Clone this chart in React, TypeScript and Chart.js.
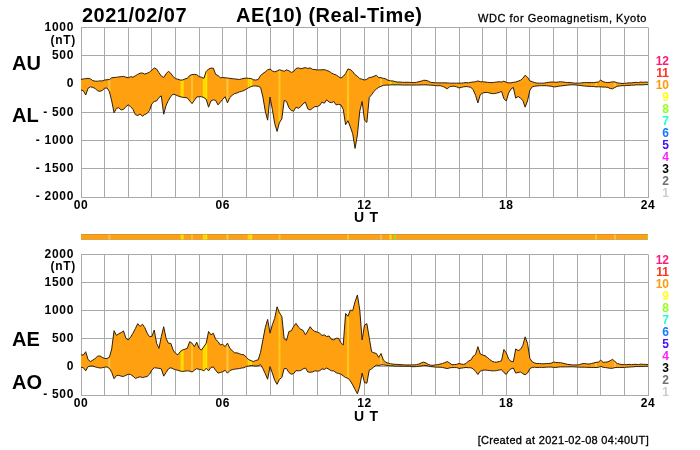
import React, { useEffect, useRef } from "react";
import { Chart, registerables } from "chart.js";

Chart.register(...registerables);

const stepHours = 0.1;

const auValues = [
  80,90,95,100,90,60,50,50,55,55,
  70,75,80,110,115,120,125,130,135,120,
  110,130,120,145,170,190,195,175,190,210,
  245,285,265,200,140,115,180,225,190,130,
  95,85,70,70,90,100,150,165,170,165,
  130,120,100,220,265,280,280,170,150,110,
  115,110,105,100,95,90,85,80,90,100,
  105,100,95,75,70,80,150,185,215,250,
  265,230,215,230,250,240,225,250,235,205,
  220,275,285,270,280,290,275,285,260,255,
  250,250,250,255,240,225,195,175,160,130,
  105,135,185,265,255,220,165,135,95,85,
  70,85,115,120,135,155,115,110,100,90,
  65,55,55,40,35,35,30,30,30,30,
  25,25,30,40,50,65,65,50,30,25,
  20,20,20,20,20,18,15,15,15,15,
  15,15,20,25,20,30,35,40,55,40,
  40,35,30,25,25,30,35,40,35,50,
  30,20,20,30,35,50,65,100,155,120,
  55,40,25,15,15,15,15,25,30,35,
  35,30,35,40,35,30,25,25,20,15,
  15,15,20,25,25,25,25,25,30,35,
  70,40,30,25,30,40,35,20,15,10,
  10,15,20,20,25,30,25,35,30,35,
  30,
];

const alValues = [
  -105,-120,-195,-75,-50,-60,-80,-120,-130,-115,
  -75,-70,-130,-300,-510,-430,-420,-460,-450,-400,
  -370,-400,-450,-540,-560,-530,-570,-540,-520,-470,
  -350,-310,-300,-240,-210,-535,-380,-290,-220,-180,
  -190,-210,-225,-235,-240,-245,-300,-345,-290,-230,
  -225,-225,-240,-270,-410,-300,-280,-290,-370,-320,
  -270,-225,-330,-240,-200,-170,-160,-140,-130,-115,
  -90,-65,-45,-35,-35,-40,-60,-230,-480,-640,
  -230,-450,-700,-840,-680,-620,-290,-310,-420,-470,
  -480,-410,-430,-400,-350,-320,-440,-460,-430,-400,
  -400,-380,-320,-340,-280,-320,-330,-310,-370,-360,
  -370,-450,-720,-650,-760,-880,-1140,-900,-480,-310,
  -640,-680,-240,-190,-130,-90,-60,-40,-25,-20,
  -18,-15,-15,-15,-15,-15,-18,-18,-18,-18,
  -18,-18,-18,-18,-15,-15,-15,-18,-20,-22,
  -28,-30,-30,-40,-60,-85,-50,-40,-40,-50,
  -70,-60,-50,-45,-50,-60,-100,-200,-335,-190,
  -160,-150,-150,-160,-170,-170,-160,-150,-130,-260,
  -300,-160,-90,-60,-250,-220,-250,-290,-410,-300,
  -110,-50,-40,-35,-30,-30,-30,-30,-35,-40,
  -50,-50,-40,-35,-30,-25,-20,-15,-15,-15,
  -20,-25,-30,-35,-40,-40,-45,-45,-50,-50,
  -50,-55,-55,-60,-80,-85,-60,-40,-35,-30,
  -30,-25,-25,-20,-20,-15,-15,-15,-15,-10,
  -10,
];

const aeValues = [
  215,210,270,130,95,120,150,190,195,170,
  150,150,170,320,645,560,590,610,640,510,
  480,530,600,680,770,720,760,700,600,540,
  540,655,420,330,540,715,510,420,420,300,
  240,215,270,300,315,330,450,420,360,440,
  330,300,360,420,630,570,600,490,450,390,
  400,360,420,330,290,250,250,235,220,215,
  170,130,110,95,115,125,260,480,700,845,
  600,750,865,1070,960,900,500,470,630,640,
  720,775,710,670,650,570,640,715,660,630,
  620,600,560,570,540,550,490,480,510,510,
  430,390,950,900,1010,1000,1160,1280,1010,480,
  745,770,520,270,250,240,170,235,120,85,
  65,55,50,45,45,40,40,35,35,35,
  35,35,40,50,70,85,70,45,30,28,
  35,40,50,60,75,95,70,40,40,45,
  60,50,45,60,105,120,190,220,360,230,
  210,200,170,130,100,85,85,95,110,310,
  250,140,100,90,320,290,310,380,535,420,
  150,90,70,60,60,55,55,60,60,65,
  85,80,75,75,65,55,45,40,35,35,
  35,40,55,60,55,50,60,70,80,85,
  120,80,85,90,110,135,95,60,50,40,
  40,40,45,40,45,45,40,50,45,45,
  40,
];

const aoValues = [
  -5,-15,-70,5,15,15,0,-10,-20,-15,
  -5,0,-25,-95,-210,-155,-150,-165,-170,-150,
  -130,-135,-165,-205,-190,-175,-190,-180,-170,-130,
  -55,-15,-20,-25,-35,-165,-100,-35,-15,-35,
  -50,-60,-75,-80,-75,-70,-75,-90,-60,-30,
  -45,-50,-70,-25,-70,-10,0,-60,-110,-100,
  -85,-60,-110,-65,-50,-40,-35,-30,-20,-15,
  10,15,25,20,15,20,40,-30,-120,-220,
  5,-110,-240,-310,-220,-190,-30,-30,-100,-130,
  -120,-65,-70,-65,-35,-20,-90,-95,-90,-70,
  -75,-70,-35,-45,-20,-45,-70,-70,-105,-115,
  -130,-160,-190,-200,-250,-320,-400,-480,-340,-110,
  -280,-290,-60,-35,0,30,25,35,35,30,
  25,20,20,12,15,12,12,12,12,12,
  4,4,6,10,18,25,25,15,5,2,
  -4,-5,-5,-10,-20,-30,-18,-12,-12,-12,
  -27,-22,-15,-10,-15,-15,-35,-80,-135,-75,
  -60,-55,-60,-65,-70,-70,-65,-55,-50,-100,
  -135,-70,-35,-20,-110,-100,-90,-120,-140,-110,
  -30,-10,-5,-10,-8,-8,-8,-5,-3,-3,
  -8,-10,-3,0,0,0,0,2,2,0,
  -2,-5,-5,-5,-8,-8,-10,-10,-10,-8,
  10,-8,-12,-18,-25,-25,-12,-10,-10,-10,
  -10,-5,-3,0,2,8,5,10,8,12,
  10,
];

const stripeHours = [1.2, 4.25, 4.3, 4.7, 5.2, 5.3, 6.2, 7.1, 7.2, 8.4, 11.3, 12.7, 13.1, 13.3, 21.8, 22.6, 24];
const stripeColours = ["#ffc040", "#ffd000", "#ffe000", "#ffc030", "#ffe000", "#ffe800", "#ffc840", "#ffd800", "#ffe800", "#ffc820", "#ffc820", "#ffc040", "#ffe000", "#a0e020", "#ffc820", "#ffc040", "#a0e020"];

const stationLabels = ["12", "11", "10", "9", "8", "7", "6", "5", "4", "3", "2", "1"];
const stationColours = ["#ff1a78", "#ff3020", "#ff9a10", "#ffff20", "#98ff20", "#20ffcc", "#1878ff", "#4010ff", "#ff20ff", "#000000", "#707070", "#cccccc"];

const xTickLabels = ["00", "06", "12", "18", "24"];
const topTicks = { min: -2000, max: 1000, step: 500 };
const bottomTicks = { min: -500, max: 2000, step: 500 };

const FONT = "'Liberation Sans', Arial, sans-serif";
const FILL = "#ffa010";
const EDGE = "#2e1e0c";
const GRID = "#aaaaaa";

const toPoints = (values: number[]) => values.map((y, i) => ({ x: i * stepHours, y }));
const stripePoints = (hi: number[], lo: number[]) =>
  stripeHours.map((h) => {
    const i = Math.round(h / stepHours);
    return { x: h, y: [lo[i], hi[i]] };
  });

const letterSpacing = (px: string) => ({
  id: "spacing",
  beforeDraw(chart: any) {
    chart.ctx.letterSpacing = px;
  },
});

function panel(canvas: HTMLCanvasElement, upper: number[], lower: number[], range: any, top: number, bottom: number) {
  return new Chart(canvas, {
    type: "line",
    data: {
      datasets: [
        { type: "line", data: toPoints(upper), borderColor: EDGE, borderWidth: 1, pointRadius: 0, tension: 0, fill: "+1", backgroundColor: FILL, order: 0 },
        { type: "line", data: toPoints(lower), borderColor: EDGE, borderWidth: 1, pointRadius: 0, tension: 0, fill: false, order: 0 },
        { type: "bar", data: stripePoints(upper, lower), backgroundColor: stripeColours, barThickness: 1.4, order: 1 },
      ] as any,
    },
    plugins: [letterSpacing("0.7px")],
    options: {
      animation: false,
      responsive: false,
      devicePixelRatio: 1,
      layout: { autoPadding: false, padding: { left: 0, right: 52, top, bottom: 450 - bottom - 20 } },
      plugins: { legend: { display: false }, tooltip: { enabled: false }, filler: { drawTime: "beforeDatasetsDraw" } },
      scales: {
        x: {
          type: "linear",
          min: 0,
          max: 24,
          offset: false,
          afterFit: (s: any) => { s.height = 20; },
          grid: { color: GRID, lineWidth: 1, drawTicks: false, offset: false },
          border: { color: GRID },
          ticks: {
            stepSize: 1,
            autoSkip: false,
            maxRotation: 0,
            padding: 1,
            color: "#000",
            font: { family: FONT, size: 12, weight: "bold" },
            callback: (v: any) => (v % 6 === 0 ? xTickLabels[v / 6] : ""),
          },
        },
        y: {
          min: range.min,
          max: range.max,
          afterFit: (s: any) => { s.width = 81; },
          grid: { color: GRID, lineWidth: 1, drawTicks: false },
          border: { color: GRID },
          ticks: {
            stepSize: range.step,
            padding: 7,
            color: "#000",
            font: { family: FONT, size: 12, weight: "bold" },
            callback: (v: any) => (v < 0 ? "- " + -v : String(v)),
          },
        },
      },
    } as any,
  });
}

function strip(canvas: HTMLCanvasElement) {
  const base = { pointRadius: 0, tension: 0 };
  return new Chart(canvas, {
    type: "line",
    data: {
      datasets: [
        { ...base, type: "line", data: [{ x: 0, y: 1 }, { x: 24, y: 1 }], borderColor: "#b08850", borderWidth: 1, fill: "origin", backgroundColor: FILL, order: 0 },
        { ...base, type: "line", data: [{ x: 0, y: 0 }, { x: 24, y: 0 }], borderColor: "#aaaaaa", borderWidth: 1, fill: false, order: 0 },
        { type: "bar", data: stripeHours.map((h) => ({ x: h, y: [0, 1] })), backgroundColor: stripeColours, barThickness: 1.4, order: 1 },
      ] as any,
    },
    options: {
      animation: false,
      responsive: false,
      devicePixelRatio: 1,
      layout: { autoPadding: false, padding: { left: 81, right: 52, top: 234, bottom: 210 } },
      plugins: { legend: { display: false }, tooltip: { enabled: false }, filler: { drawTime: "beforeDatasetsDraw" } },
      scales: {
        x: { type: "linear", min: 0, max: 24, offset: false, display: false },
        y: { min: 0, max: 1, display: false },
      },
    } as any,
  });
}

function Label(props: { x: number; y: number; right?: boolean; size: number; weight?: number; spacing?: number; stroke?: number; color?: string; children: any }) {
  const { x, y, right, size, weight = 700, spacing = 0, stroke = 0, color = "#000", children } = props;
  return (
    <div
      style={{
        position: "absolute",
        left: right ? undefined : x,
        right: right ? 700 - x : undefined,
        top: y,
        transform: "translateY(-50%)",
        font: `${weight} ${size}px ${FONT}`,
        letterSpacing: spacing,
        WebkitTextStroke: stroke ? `${stroke}px ${color}` : undefined,
        color,
        whiteSpace: "pre",
        lineHeight: 1,
      }}
    >
      {children}
    </div>
  );
}

const canvasStyle: React.CSSProperties = { position: "absolute", left: 0, top: 0, background: "transparent" };

export default function App() {
  const a = useRef<HTMLCanvasElement>(null);
  const b = useRef<HTMLCanvasElement>(null);
  const c = useRef<HTMLCanvasElement>(null);
  useEffect(() => {
    const charts = [
      panel(a.current!, auValues, alValues, topTicks, 27.5, 197),
      strip(b.current!),
      panel(c.current!, aeValues, aoValues, bottomTicks, 254.5, 395),
    ];
    return () => charts.forEach((ch) => ch.destroy());
  }, []);
  return (
    <div style={{ position: "fixed", left: 0, top: 0, width: 700, height: 450, background: "#fff", overflow: "hidden" }}>
      <canvas ref={a} width={700} height={450} style={canvasStyle} />
      <canvas ref={b} width={700} height={450} style={canvasStyle} />
      <canvas ref={c} width={700} height={450} style={canvasStyle} />

      <Label x={82} y={15} size={20} spacing={0.5}>2021/02/07</Label>
      <Label x={236} y={15} size={20} spacing={0.5}>AE(10) (Real-Time)</Label>
      <Label x={647} y={18} right size={11} weight={400} spacing={0.55} stroke={0.3}>WDC for Geomagnetism, Kyoto</Label>

      <Label x={76} y={39.5} right size={12} spacing={0.7}>(nT)</Label>
      <Label x={12} y={63} size={20}>AU</Label>
      <Label x={12} y={115} size={20}>AL</Label>
      <Label x={354} y={217} size={14} spacing={0.7}>U T</Label>

      <Label x={76} y={266} right size={12} spacing={0.7}>(nT)</Label>
      <Label x={12} y={339} size={20}>AE</Label>
      <Label x={12} y={382} size={20}>AO</Label>
      <Label x={354} y={416} size={14} spacing={0.7}>U T</Label>

      {stationLabels.map((t, i) => (
        <Label key={"t" + t} x={669} y={61 + i * 12} right size={12} color={stationColours[i]}>{t}</Label>
      ))}
      {stationLabels.map((t, i) => (
        <Label key={"b" + t} x={669} y={259.5 + i * 12} right size={12} color={stationColours[i]}>{t}</Label>
      ))}

      <Label x={649} y={440} right size={11} weight={400} spacing={0.3} stroke={0.3}>[Created at 2021-02-08 04:40UT]</Label>
    </div>
  );
}
